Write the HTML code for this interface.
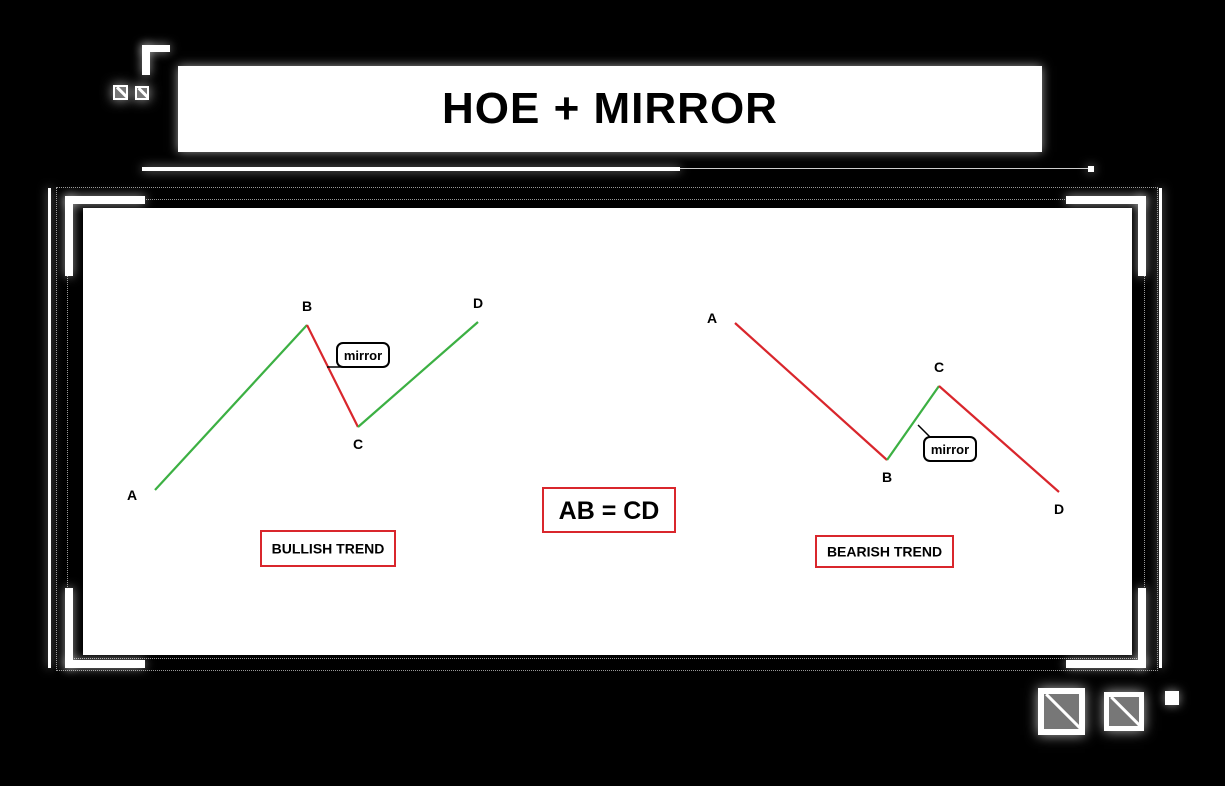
<!DOCTYPE html>
<html><head><meta charset="utf-8"><style>
body{margin:0;background:#000;width:1225px;height:786px;overflow:hidden;font-family:"Liberation Sans",sans-serif}
.abs{position:absolute}
.w{background:#fff;box-shadow:0 0 10px rgba(255,255,255,.6)}
.sq{position:absolute;border:3px solid #fff;background:#777;box-sizing:border-box;box-shadow:0 0 12px rgba(255,255,255,.7);overflow:hidden}
.sq::after{content:"";position:absolute;left:50%;top:-20%;width:3px;height:140%;background:#fff;transform:rotate(-45deg)}
.dot{position:absolute;border:1px dotted #999}
</style></head><body>
<div class="abs" style="left:142px;top:45px;width:30px;height:30px;">
 <div class="abs w" style="left:0;top:0;width:28px;height:7px"></div>
 <div class="abs w" style="left:0;top:0;width:8px;height:30px"></div>
</div>
<div class="sq" style="left:113px;top:85px;width:15px;height:15px;border-width:2px"></div>
<div class="sq" style="left:135px;top:86px;width:14px;height:14px;border-width:2px"></div>
<div class="abs w" style="left:178px;top:66px;width:864px;height:86px;display:flex;align-items:center;justify-content:center">
 <span style="font-weight:bold;font-size:44px;color:#000;letter-spacing:1px">HOE + MIRROR</span></div>
<div class="abs w" style="left:142px;top:167px;width:538px;height:4px"></div>
<div class="abs" style="left:680px;top:168px;width:410px;height:1px;background:#ccc"></div>
<div class="abs w" style="left:1088px;top:166px;width:6px;height:6px"></div>
<div class="abs w" style="left:48px;top:188px;width:3px;height:480px"></div>
<div class="abs w" style="left:1159px;top:188px;width:3px;height:480px"></div>
<div class="dot" style="left:56px;top:187px;width:1100px;height:482px"></div>
<div class="dot" style="left:67px;top:199px;width:1076px;height:458px"></div>
<div class="abs w" style="left:65px;top:196px;width:80px;height:8px"></div>
<div class="abs w" style="left:65px;top:196px;width:8px;height:80px"></div>
<div class="abs w" style="left:1066px;top:196px;width:80px;height:8px"></div>
<div class="abs w" style="left:1138px;top:196px;width:8px;height:80px"></div>
<div class="abs w" style="left:65px;top:660px;width:80px;height:8px"></div>
<div class="abs w" style="left:65px;top:588px;width:8px;height:80px"></div>
<div class="abs w" style="left:1066px;top:660px;width:80px;height:8px"></div>
<div class="abs w" style="left:1138px;top:588px;width:8px;height:80px"></div>
<div class="abs" style="left:83px;top:208px;width:1049px;height:447px;background:#fff"></div>
<div class="sq" style="left:1038px;top:688px;width:47px;height:47px;border-width:6px"></div>
<div class="sq" style="left:1104px;top:692px;width:40px;height:39px;border-width:5px"></div>
<div class="abs w" style="left:1165px;top:691px;width:14px;height:14px"></div>
<svg class="abs" style="left:0;top:0" width="1225" height="786">
<g id="g" font-family="Liberation Sans, sans-serif"></g>
</svg>
<script>
const labels=["A","B","C","D"];
const bullX=[5.5,20.7,25.8,37.8];
const bullY=[28,94,53.2,95.2];
const bearX=[63.5,78.7,83.9,95.9];
const bearY=[94.8,40,69.6,27.2];
const sx=v=>100+v*10, sy=v=>560-v*2.5;
const g=document.getElementById('g');const NS='http://www.w3.org/2000/svg';
function el(t,a,txt){const e=document.createElementNS(NS,t);for(const k in a)e.setAttribute(k,a[k]);if(txt)e.textContent=txt;g.appendChild(e);return e;}
function series(X,Y,cols,name,lo){
 for(let i=0;i<3;i++){const e=el('line',{x1:sx(X[i]),y1:sy(Y[i]),x2:sx(X[i+1]),y2:sy(Y[i+1]),stroke:cols[i],'stroke-width':2.2});
 
 }
 for(let i=0;i<4;i++){const below=lo[i];
 let dx=0,dy=below?22:-14;
 if(i==0){dx=-23;dy=below?10:0;}
 const t=el('text',{x:sx(X[i])+dx,y:sy(Y[i])+dy,'text-anchor':'middle','font-size':14,'font-weight':'bold'},labels[i]);
 
 }
}
const G='#3cb043',R='#d9262c';
series(bullX,bullY,[G,R,G],'bullish',[true,false,true,false]);
series(bearX,bearY,[R,G,R],'bearish',[false,true,false,true]);
function bubble(x,y,tx,ty,name){
 const p=el('path',{d:`M${x+6},${y} h40 a6,6 0 0 1 6,6 v12 a6,6 0 0 1 -6,6 h-40 a6,6 0 0 1 -6,-6 v-12 a6,6 0 0 1 6,-6z`,fill:'#fff',stroke:'#000','stroke-width':2});
 
 el('line',{x1:tx,y1:ty,x2:x+6,y2:y+(ty>y?24:0),stroke:'#000','stroke-width':1.5});
 el('text',{x:x+26,y:y+17,'text-anchor':'middle','font-size':13,'font-weight':'bold'},'mirror');
}
bubble(337,343,327,367,'mirror-bubble-bullish');
bubble(924,437,918,425,'mirror-bubble-bearish');
function box(x,y,w,h,txt,fs,name){
 const r=el('rect',{x,y,width:w,height:h,fill:'#fff',stroke:R,'stroke-width':2});
 
 el('text',{x:x+w/2,y:y+h/2+fs*0.36,'text-anchor':'middle','font-size':fs,'font-weight':'bold'},txt);
}
box(261,531,134,35,'BULLISH TREND',14,'bullish-trend-label');
box(816,536,137,31,'BEARISH TREND',14,'bearish-trend-label');
box(543,488,132,44,'AB = CD',25,'ab-equals-cd-label');
</script>
</body></html>
